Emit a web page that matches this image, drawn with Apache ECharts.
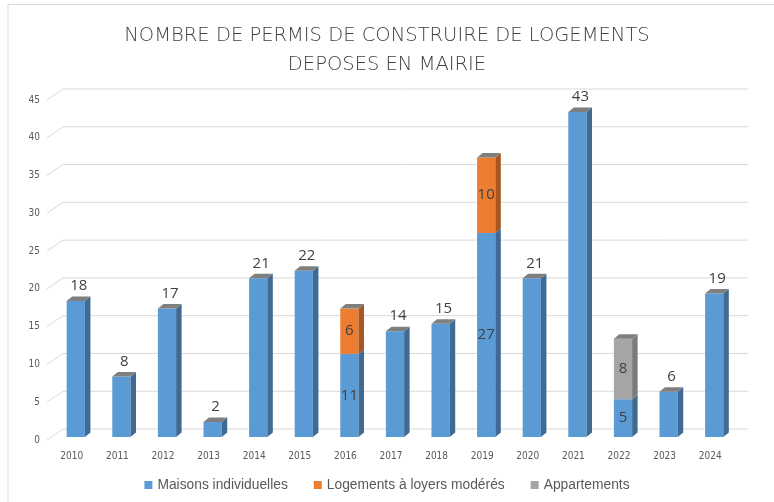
<!DOCTYPE html>
<html>
<head>
<meta charset="utf-8">
<script src="https://cdn.jsdelivr.net/npm/echarts@6/dist/echarts.min.js"></script>
<style>
  html, body { margin: 0; padding: 0; background: #fff; }
  #chart { width: 774px; height: 502px; }
</style>
</head>
<body>
<div id="chart"></div>
<script>
const years = ['2010', '2011', '2012', '2013', '2014', '2015', '2016', '2017', '2018', '2019', '2020', '2021', '2022', '2023', '2024']
const maisons = [18, 8, 17, 2, 21, 22, 11, 14, 15, 27, 21, 43, 5, 6, 19]
const loyersModeres = [0, 0, 0, 0, 0, 0, 6, 0, 0, 10, 0, 0, 0, 0, 0]
const appartements = [0, 0, 0, 0, 0, 0, 0, 0, 0, 0, 0, 0, 8, 0, 0]
const yTicks = [0, 5, 10, 15, 20, 25, 30, 35, 40, 45]

const stack = [maisons, loyersModeres, appartements]
const names = ['Maisons individuelles', 'Logements à loyers modérés', 'Appartements']
const front = ['#5b9bd5', '#ed7d31', '#a5a5a5']
const side = ['#3f6a93', '#a85720', '#7b7b7b']
const capColor = '#7f7f7f'
const dx = 5.5, dy = 4.5

// one renderer per stacked layer, draws a pseudo 3d column segment
function layerRenderer(k) {
  return function (params, api) {
    const i = api.value(0)
    const v = stack[k][i]
    if (!v) return
    let base = 0
    for (let j = 0; j < k; j++) base += stack[j][i]
    let topLayer = -1
    for (let j = 0; j < stack.length; j++) {
      if (stack[j][i]) topLayer = j
    }
    const stacked = stack.filter(s => s[i]).length > 1
    const c = api.coord([i, base])[0]
    const yb = api.coord([i, base])[1]
    const yt = api.coord([i, base + v])[1]
    const hw = api.size([1, 0])[0] * 0.2
    const children = [
      { type: 'rect', shape: { x: c - hw, y: yt, width: hw * 2, height: yb - yt }, style: { fill: front[k] } },
      { type: 'polygon', shape: { points: [[c + hw, yb], [c + hw + dx, yb - dy], [c + hw + dx, yt - dy], [c + hw, yt]] }, style: { fill: side[k] } }
    ]
    if (k === topLayer) {
      children.push({ type: 'polygon', shape: { points: [[c - hw, yt], [c - hw + dx, yt - dy], [c + hw + dx, yt - dy], [c + hw, yt]] }, style: { fill: capColor } })
    }
    const font = '15px "Open Sans", sans-serif'
    if (stacked) {
      children.push({ type: 'text', style: { text: String(v), x: c, y: (yb + yt) / 2, align: 'center', verticalAlign: 'middle', font: font, fill: '#404040' } })
    } else {
      children.push({ type: 'text', style: { text: String(v), x: c + 3, y: yt - 15, align: 'center', verticalAlign: 'middle', font: font, fill: '#404040' } })
    }
    return { type: 'group', children: children }
  }
}

const chart = echarts.init(document.getElementById('chart'), null, { renderer: 'canvas' })

const series = [{
  type: 'custom',
  name: 'grille',
  silent: true,
  z: 1,
  data: yTicks.map(v => [0, v]),
  encode: { x: 0, y: 1 },
  renderItem: (params, api) => {
    const cs = params.coordSys
    const y = api.coord([0, api.value(1)])[1]
    return {
      type: 'polyline',
      shape: { points: [[cs.x - 6, y + 3], [cs.x + 10, y - 8], [cs.x + cs.width + 11, y - 8]] },
      style: { stroke: '#d9d9d9', lineWidth: 1, fill: null }
    }
  }
}]
names.forEach((n, k) => {
  series.push({
    type: 'custom',
    name: n,
    z: 2 + k,
    itemStyle: { color: front[k] },
    data: years.map((y, i) => [i, stack[k][i]]),
    encode: { x: 0, y: 1 },
    renderItem: layerRenderer(k)
  })
})

chart.setOption({
  animation: false,
  backgroundColor: '#fff',
  title: {
    text: 'NOMBRE DE PERMIS DE CONSTRUIRE DE LOGEMENTS\nDEPOSES EN MAIRIE',
    left: 'center',
    top: 16,
    textStyle: {
      fontFamily: '"DejaVu Sans"',
      fontWeight: 200,
      fontSize: 19.5,
      lineHeight: 29,
      color: '#404040'
    }
  },
  legend: {
    data: names,
    bottom: 5,
    left: 'center',
    icon: 'rect',
    itemWidth: 8,
    itemHeight: 8,
    itemGap: 26,
    textStyle: { fontFamily: '"Liberation Sans", sans-serif', fontSize: 13.8, color: '#595959' }
  },
  grid: { left: 53, width: 684, top: 97, height: 340 },
  xAxis: {
    type: 'category',
    data: years,
    axisLine: { show: false },
    axisTick: { show: false },
    axisLabel: { margin: 14, padding: [0, 8, 0, 0], fontSize: 10, color: '#595959', fontFamily: '"Liberation Sans Narrow", "DejaVu Sans Condensed", sans-serif' }
  },
  yAxis: {
    type: 'value',
    min: 0,
    max: 45,
    interval: 5,
    splitLine: { show: false },
    axisLine: { show: false },
    axisLabel: { margin: 13, verticalAlign: 'top', lineHeight: 6, fontSize: 10, color: '#595959', fontFamily: '"Liberation Sans Narrow", "DejaVu Sans Condensed", sans-serif' }
  },
  graphic: [{
    type: 'polyline',
    silent: true,
    shape: { points: [[8, 502], [8, 4.5], [774, 4.5]] },
    style: { stroke: '#d9d9d9', lineWidth: 1, fill: null }
  }],
  series: series
})
</script>
</body>
</html>
